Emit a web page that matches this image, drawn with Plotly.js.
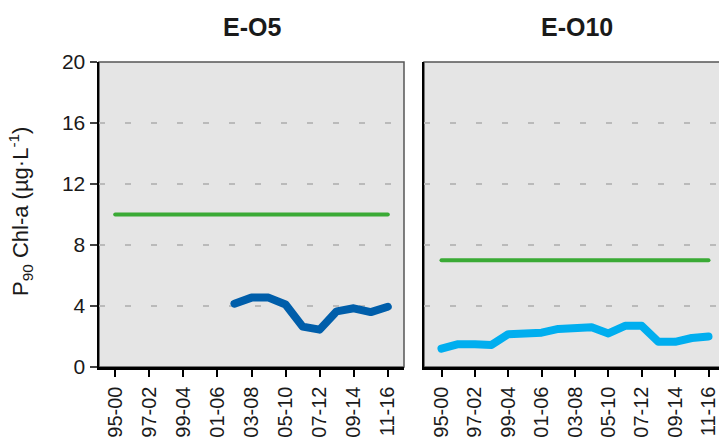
<!DOCTYPE html>
<html>
<head>
<meta charset="utf-8">
<script src="https://cdn.plot.ly/plotly-3.0.1.min.js"></script>
<style>
html, body { margin: 0; padding: 0; background: #ffffff; overflow: hidden; }
#chart { width: 719px; height: 442px; }
.js-line { stroke-linecap: round !important; stroke-linejoin: round !important; }
</style>
</head>
<body>
<div id="chart"></div>
<script>
// Categories: moving 6-year windows
const categories = ["95-00","96-01","97-02","98-03","99-04","00-05","01-06","02-07","03-08",
                    "04-09","05-10","06-11","07-12","08-13","09-14","10-15","11-16"];
const tickLabels = ["95-00","97-02","99-04","01-06","03-08","05-10","07-12","09-14","11-16"];
const panelTitles = ["E-O5", "E-O10"];

// E-O5 (left panel)
const eo5Threshold = [10,10,10,10,10,10,10,10,10,10,10,10,10,10,10,10,10];
const eo5P90 = [null,null,null,null,null,null,null,4.15,4.55,4.55,4.1,2.65,2.45,3.65,3.85,3.6,3.95];

// E-O10 (right panel)
const eo10Threshold = [7,7,7,7,7,7,7,7,7,7,7,7,7,7,7,7,7];
const eo10P90 = [1.2,1.5,1.5,1.45,2.15,2.15,2.25,2.5,2.6,2.6,2.2,2.7,2.7,1.65,1.65,1.9,2.0];

const yTicks = [0,4,8,12,16,20];

const xIdx = categories.map((_, i) => i);
const tickIdx = tickLabels.map(l => categories.indexOf(l));

const FONT = "Liberation Sans, Arial, sans-serif";
const GREEN = "#3aaa35";
const DARKBLUE = "#005eaa";
const LIGHTBLUE = "#00aeef";

const traces = [
  {x: xIdx, y: eo5Threshold, xaxis: "x", yaxis: "y", mode: "lines",
   line: {color: GREEN, width: 4}, hoverinfo: "skip", showlegend: false},
  {x: xIdx, y: eo5P90, xaxis: "x", yaxis: "y", mode: "lines",
   line: {color: DARKBLUE, width: 8}, hoverinfo: "skip", showlegend: false},
  {x: xIdx, y: eo10Threshold, xaxis: "x2", yaxis: "y2", mode: "lines",
   line: {color: GREEN, width: 4}, hoverinfo: "skip", showlegend: false},
  {x: xIdx, y: eo10P90, xaxis: "x2", yaxis: "y2", mode: "lines",
   line: {color: LIGHTBLUE, width: 8}, hoverinfo: "skip", showlegend: false}
];

const W = 719, H = 442;
const L = 99, R = 0, T = 62, B = 75;
const pw = W - L - R;           // 620
const panelW = 305;
const xr0 = -0.95;
// right panel (cropped at the page edge)
const rLeft = 424, rFirst = 441.5, rLast = 708.5;
const rUnit = (rLast - rFirst) / 16;

const xCommon = {
  type: "linear",
  tickmode: "array", tickvals: tickIdx, ticktext: tickLabels,
  tickangle: -90, ticks: "outside", ticklen: 7, tickwidth: 2, tickcolor: "#000",
  ticklabelstandoff: 2, ticklabeloverflow: "allow",
  showline: true, linecolor: "#000", linewidth: 2.5,
  showgrid: false, zeroline: false,
  tickfont: {family: FONT, size: 20, color: "#1a1a1a"},
  fixedrange: true
};
const yCommon = {
  range: [0, 20], tickmode: "array", tickvals: yTicks,
  showline: true, linecolor: "#000", linewidth: 2.5,
  showgrid: true, gridcolor: "#bababa", gridwidth: 2, griddash: "6px,20px",
  zeroline: false,
  tickfont: {family: FONT, size: 21, color: "#1a1a1a"},
  fixedrange: true
};

const layout = {
  width: W, height: H,
  margin: {l: L, r: R, t: T, b: B, pad: 0},
  paper_bgcolor: "#ffffff", plot_bgcolor: "#e5e5e5",
  showlegend: false,
  xaxis: Object.assign({}, xCommon, {domain: [0, panelW / pw], range: [xr0, xr0 + 17.9], anchor: "y"}),
  xaxis2: Object.assign({}, xCommon, {domain: [(rLeft - L) / pw, 1],
           range: [(rLeft - rFirst) / rUnit, (W - rFirst) / rUnit], anchor: "y2"}),
  yaxis: Object.assign({}, yCommon, {domain: [0, 1], anchor: "x",
           ticks: "outside", ticklen: 7, tickwidth: 1.5, tickcolor: "#444"}),
  yaxis2: Object.assign({}, yCommon, {domain: [0, 1], anchor: "x2",
           ticks: "", showticklabels: false}),
  shapes: [
    {type: "rect", xref: "x domain", yref: "y domain", x0: 0, x1: 1, y0: 0, y1: 1,
     line: {color: "#555555", width: 1.5}, layer: "below"},
    {type: "rect", xref: "x2 domain", yref: "y2 domain", x0: 0, x1: 1.2, y0: 0, y1: 1,
     line: {color: "#555555", width: 1.5}, layer: "below"}
  ],
  annotations: [
    {text: "<b>" + panelTitles[0] + "</b>", xref: "paper", yref: "paper",
     x: (251.5 - L) / pw, y: (H - B - 27) / (H - T - B), xanchor: "center", yanchor: "middle",
     showarrow: false, font: {family: FONT, size: 25, color: "#1a1a1a"}},
    {text: "<b>" + panelTitles[1] + "</b>", xref: "paper", yref: "paper",
     x: (576.5 - L) / pw, y: (H - B - 27) / (H - T - B), xanchor: "center", yanchor: "middle",
     showarrow: false, font: {family: FONT, size: 25, color: "#1a1a1a"}},
    {text: "P<sub>90</sub> Chl-a (µg·L<sup>-1</sup>)", xref: "paper", yref: "paper",
     x: (20 - L) / pw, y: (H - B - 212) / (H - T - B), xanchor: "center", yanchor: "middle",
     textangle: -90, showarrow: false, font: {family: FONT, size: 22, color: "#1a1a1a"}}
  ]
};

Plotly.newPlot("chart", traces, layout, {displayModeBar: false, staticPlot: true});
</script>
</body>
</html>
